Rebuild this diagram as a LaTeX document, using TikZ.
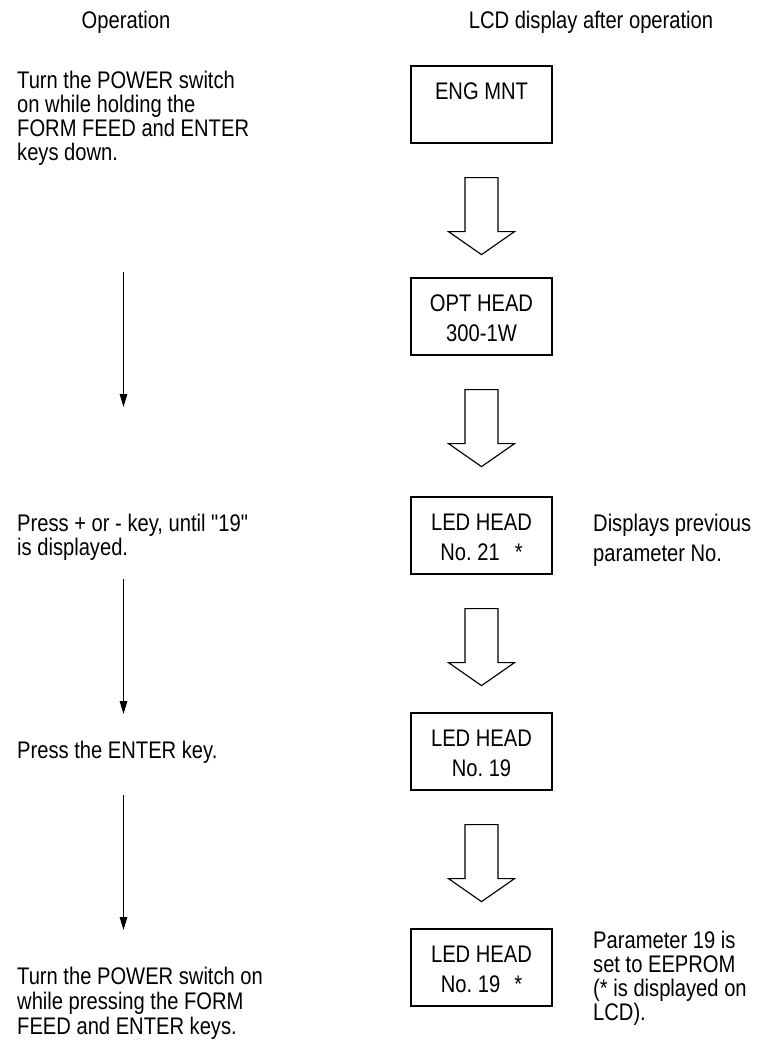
\documentclass[tikz,border=0pt]{standalone}
\usepackage{fontspec}
\setmainfont[FakeStretch=0.84,Ligatures=TeXOff]{Liberation Sans}
\usetikzlibrary{calc,arrows.meta}
\frenchspacing
\newcommand\hollowarrow[1]{%
  \draw[hollow] ($(#1.south)+(-16.5,34)$) -- ++(0,54) -- ++(-16.5,0) -- ++(33,23)
    -- ++(33,-23) -- ++(-16.5,0) -- ++(0,-54) -- cycle;}
\begin{document}
\begin{tikzpicture}[x=1pt,y=-1pt,
  every node/.style={font=\fontsize{24}{24}\selectfont\frenchspacing, inner sep=0pt},
  txt/.style={anchor=base west},
  ctxt/.style={anchor=base},
  lcdbox/.style={draw, line width=1.25pt, minimum width=141pt, minimum height=77pt, inner sep=0pt},
  oparrow/.style={-{Triangle[length=13pt,width=7.5pt]}, line width=1.25pt},
  hollow/.style={draw, line width=1.15pt, line join=miter}
]
\useasboundingbox (0,0) rectangle (764,1044);

% headers
\node[ctxt] (hop) at (126,28) {Operation};
\node[ctxt] (hlcd) at (591,28) {LCD display after operation};

% LCD boxes
\node[lcdbox] (b1) at (481.5,104.5) {};
\node[lcdbox] (b2) at (481.5,316.5) {};
\node[lcdbox] (b3) at (481.5,535.5) {};
\node[lcdbox] (b4) at (481.5,751.5) {};
\node[lcdbox] (b5) at (481.5,967.5) {};

\node[ctxt] (b1t) at ($(b1.north)+(0,34)$) {ENG MNT};
\node[ctxt] (b2t) at ($(b2.north)+(0,34)$) {OPT HEAD};
\node[ctxt] (b2u) at ($(b2.north)+(0,64)$) {300-1W};
\node[ctxt] (b3t) at ($(b3.north)+(0,34)$) {LED HEAD};
\node[ctxt] (b3u) at ($(b3.north)+(0,64)$) {No. 21\hspace{15pt}*};
\node[ctxt] (b4t) at ($(b4.north)+(0,34)$) {LED HEAD};
\node[ctxt] (b4u) at ($(b4.north)+(0,64)$) {No. 19};
\node[ctxt] (b5t) at ($(b5.north)+(0,34)$) {LED HEAD};
\node[ctxt] (b5u) at ($(b5.north)+(0,64)$) {No. 19\hspace{14pt}*};

% hollow arrows between boxes
\hollowarrow{b1}
\hollowarrow{b2}
\hollowarrow{b3}
\hollowarrow{b4}

% right notes
\node[txt] (n1a) at (593,531) {Displays previous};
\node[txt] (n1b) at (593,561) {parameter No.};
\node[txt] (n2a) at (593,948) {Parameter 19 is};
\node[txt] (n2b) at (593,972) {set to EEPROM};
\node[txt] (n2c) at (593,996) {(* is displayed on};
\node[txt] (n2d) at (593,1020) {LCD).};

% operation texts
\node[txt] (o1a) at (17,88) {Turn the POWER switch};
\node[txt] (o1b) at (17,112) {on while holding the};
\node[txt] (o1c) at (17,136) {FORM FEED and ENTER};
\node[txt] (o1d) at (17,160) {keys down.};
\node[txt] (o2a) at (17,531) {Press + or - key, until "19"};
\node[txt] (o2b) at (17,555) {is displayed.};
\node[txt] (o3a) at (17,758) {Press the ENTER key.};
\node[txt] (o4a) at (17,984) {Turn the POWER switch on};
\node[txt] (o4b) at (17,1009) {while pressing the FORM};
\node[txt] (o4c) at (17,1034) {FEED and ENTER keys.};

% operation arrows
\coordinate (l1s) at (123.5,272); \coordinate (l1e) at (123.5,407);
\coordinate (l2s) at (123.5,579); \coordinate (l2e) at (123.5,714);
\coordinate (l3s) at (123.5,795); \coordinate (l3e) at (123.5,930);
\draw[oparrow] (l1s) -- (l1e);
\draw[oparrow] (l2s) -- (l2e);
\draw[oparrow] (l3s) -- (l3e);
\end{tikzpicture}
\end{document}
